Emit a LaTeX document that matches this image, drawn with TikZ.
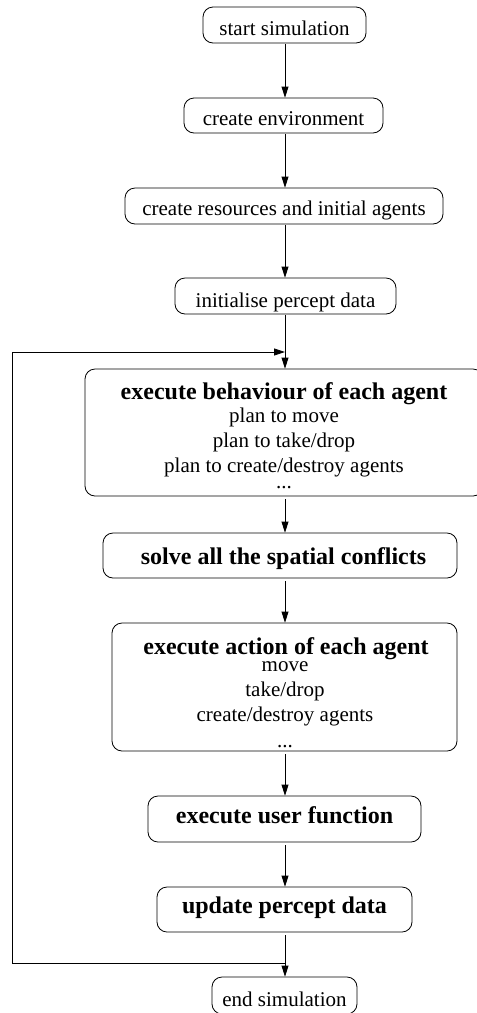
\documentclass[tikz,border=0pt]{standalone}
\usepackage{fontspec}
\setmainfont{Liberation Serif}
\usetikzlibrary{arrows.meta}
\begin{document}
\begin{tikzpicture}[x=1pt,y=-1pt,
  box/.style={draw, line width=0.8pt, rounded corners=10pt, inner sep=0pt},
  txt/.style={inner sep=0pt, anchor=base, font=\fontsize{21}{25}\selectfont},
  btxt/.style={inner sep=0pt, anchor=base, font=\fontsize{24}{28}\selectfont\bfseries},
  arr/.style={line width=0.8pt, -{Triangle[length=11pt,width=7pt]}},
  ln/.style={line width=0.8pt}]
\useasboundingbox (0,0) rectangle (477,1013);
\coordinate (axis) at (285,0);
% boxes
\node[box, minimum width=163pt, minimum height=36pt] (start) at (284.5,25) {};
\node[box, minimum width=199pt, minimum height=35pt] (env) at (283.5,115.5) {};
\node[box, minimum width=318pt, minimum height=36pt] (res) at (284,206) {};
\node[box, minimum width=221pt, minimum height=36pt] (init) at (285.5,296) {};
\node[box, minimum width=398pt, minimum height=127pt] (beh) at (284,432.5) {};
\node[box, minimum width=354pt, minimum height=45pt] (solve) at (280,555.5) {};
\node[box, minimum width=345pt, minimum height=128pt] (act) at (284.5,687) {};
\node[box, minimum width=273pt, minimum height=46pt] (user) at (284.5,819) {};
\node[box, minimum width=255pt, minimum height=45pt] (upd) at (284.5,909.5) {};
\node[box, minimum width=145pt, minimum height=37pt] (endsim) at (284.5,995.5) {};
% texts
\node[txt] (start-t) at (284.5,35) {start simulation};
\node[txt] (env-t) at (283.5,125) {create environment};
\node[txt] (res-t) at (284,215) {create resources and initial agents};
\node[txt] (init-t) at (285.5,307) {initialise percept data};
\node[btxt] (beh-t) at (284,399) {execute behaviour of each agent};
\node[txt] (beh-1) at (284,422) {plan to move};
\node[txt] (beh-2) at (284,447) {plan to take/drop};
\node[txt] (beh-3) at (284,472) {plan to create/destroy agents};
\node[txt] (beh-4) at (284,488) {...};
\node[btxt] (solve-t) at (283.5,564) {solve all the spatial conflicts};
\node[btxt] (act-t) at (286,654) {execute action of each agent};
\node[txt] (act-1) at (285,671) {move};
\node[txt] (act-2) at (285,696) {take/drop};
\node[txt] (act-3) at (285,721) {create/destroy agents};
\node[txt] (act-4) at (285,747) {...};
\node[btxt] (user-t) at (284.5,823) {execute user function};
\node[btxt] (upd-t) at (284.5,913) {update percept data};
\node[txt] (end-t) at (284.5,1006) {end simulation};
% connectors
\coordinate (lb) at (285,963);
\coordinate (lbl) at (12,963);
\coordinate (ltl) at (12,352);
\coordinate (lt) at (285,352);
\draw[arr] ([yshift=-1pt]start.south -| axis) -- (env.north -| axis);
\draw[arr] ([yshift=-1pt]env.south -| axis) -- (res.north -| axis);
\draw[arr] ([yshift=-1pt]res.south -| axis) -- (init.north -| axis);
\draw[arr] ([yshift=-1pt]init.south -| axis) -- (beh.north -| axis);
\draw[arr] ([yshift=-3pt]beh.south -| axis) -- (solve.north -| axis);
\draw[arr] ([yshift=-3pt]solve.south -| axis) -- (act.north -| axis);
\draw[arr] ([yshift=-3pt]act.south -| axis) -- (user.north -| axis);
\draw[arr] ([yshift=-3pt]user.south -| axis) -- (upd.north -| axis);
\draw[arr] ([yshift=-3pt]upd.south -| axis) -- (endsim.north -| axis);
\draw[arr] (lb) -- (lbl) -- (ltl) -- (lt);
\end{tikzpicture}
\end{document}
